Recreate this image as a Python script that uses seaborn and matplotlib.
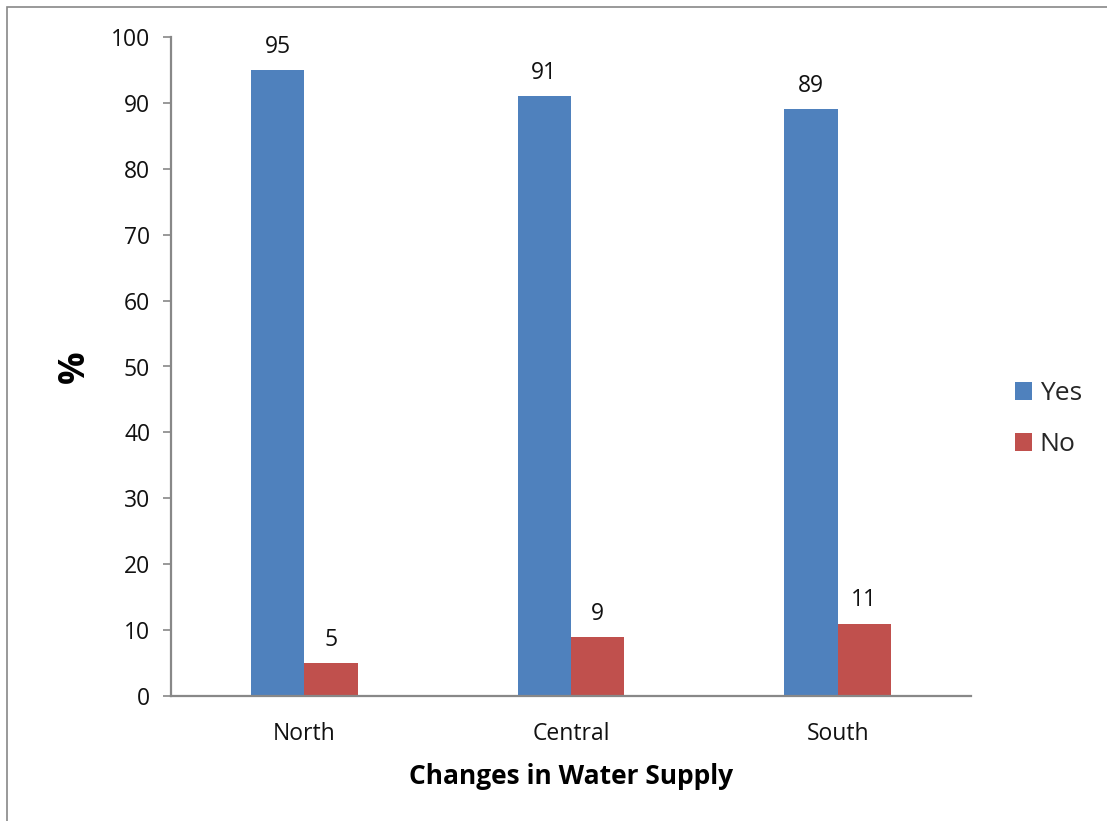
import matplotlib
matplotlib.use("Agg")
import matplotlib.pyplot as plt
from matplotlib.patches import Rectangle
import seaborn as sns
import pandas as pd

regions = ["North", "Central", "South"]
yes_values = [95, 91, 89]
no_values = [5, 9, 11]
series_names = ["Yes", "No"]
y_ticks = [0, 10, 20, 30, 40, 50, 60, 70, 80, 90, 100]

df = pd.DataFrame({
    "Region": regions * 2,
    "Answer": [series_names[0]] * len(regions) + [series_names[1]] * len(regions),
    "Percent": yes_values + no_values,
})

sns.set_theme(style="white")
plt.rcParams["font.family"] = ["Open Sans", "DejaVu Sans"]

fig = plt.figure(figsize=(11.07, 8.21), dpi=100)
ax = fig.add_axes([171 / 1107, 1 - 696 / 821, 800 / 1107, 659 / 821])

palette = {"Yes": "#4F81BD", "No": "#C0504D"}
sns.barplot(data=df, x="Region", y="Percent", hue="Answer", palette=palette,
            width=0.4, order=regions, hue_order=series_names, ax=ax,
            saturation=1, edgecolor="none", linewidth=0, legend=True)

for cont in ax.containers:
    ax.bar_label(cont, padding=8, fontsize=16.5, color="#111111")

ax.set_ylim(0, 100)
ax.set_xlim(-0.5, 2.5)
ax.set_yticks(y_ticks)
ax.tick_params(axis="y", which="major", left=True, length=6, width=1.2,
               color="#888888", labelsize=16.5, pad=9, labelcolor="#111111")
ax.tick_params(axis="x", bottom=False, labelsize=16.5, pad=13, labelcolor="#111111")

for side in ["top", "right"]:
    ax.spines[side].set_visible(False)
for side in ["left", "bottom"]:
    ax.spines[side].set_color("#888888")
    ax.spines[side].set_linewidth(1.6)

ax.set_ylabel("%", fontsize=26, fontweight="bold", labelpad=13, color="black")
ax.set_xlabel("Changes in Water Supply", fontsize=19, fontweight="bold",
              labelpad=12, color="black")

leg = ax.legend(loc="center left", bbox_to_anchor=(1.025, 0.42), frameon=False,
                fontsize=19, handlelength=0.65, handleheight=0.65,
                handletextpad=0.3, labelspacing=1.0)

# outer chart frame
fig.patches.append(Rectangle((7 / 1107, -0.1), 1.2, 1 - 7 / 821 + 0.1,
                             transform=fig.transFigure, fill=False,
                             edgecolor="#888888", linewidth=1.2))

fig.savefig("out.png", dpi=100, facecolor="white")
